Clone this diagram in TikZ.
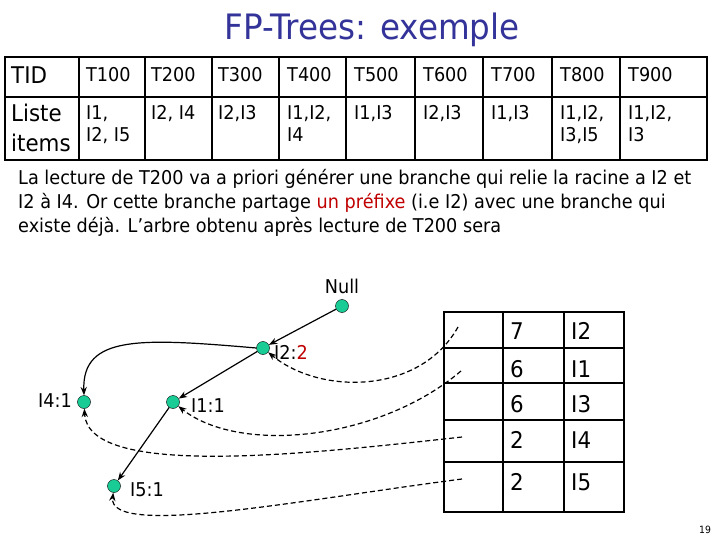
\documentclass[tikz,border=0pt]{standalone}
\usepackage{fontspec}
\setmainfont{DejaVu Sans}[FakeStretch=0.93]
\usetikzlibrary{arrows.meta}
\definecolor{titleblue}{RGB}{51,51,153}
\definecolor{nodegreen}{RGB}{25,204,150}
\definecolor{darkred}{RGB}{192,0,0}
\begin{document}
\begin{tikzpicture}[
    x=1pt,y=-1pt,
    every node/.style={inner sep=0pt},
    item/.style={circle,draw,fill=nodegreen,minimum size=13pt},
    lbl/.style={font=\fontsize{19}{19}\selectfont},
    cell/.style={anchor=north west,align=left,font=\fontsize{19}{22}\selectfont},
    big/.style={anchor=base west,font=\fontsize{23}{23}\selectfont},
    link/.style={->,line width=1.2pt},
    ptr/.style={->,line width=1.2pt,dash pattern=on 5pt off 3pt},
    >=Stealth
]
\useasboundingbox (0,0) rectangle (720,540);

\node[font=\fontsize{35}{35}\selectfont,text=titleblue] (title) at (372,30) {FP-Trees: exemple};

% transactions
\draw[line width=2pt] (5,57) rectangle (707,160);
\draw[line width=1.5pt] (5,97) -- (707,97);
\foreach \c in {79,145,212,279,346,415,483,552,620}
    \draw[line width=1.5pt] (\c,57) -- (\c,160);
\node[big] (tid) at (11,84) {TID};
\node[big] (liste) at (11,122) {Liste};
\node[big] (items) at (11,152) {items};
\foreach \x/\t/\l in {86/T100/{I1,\\I2, I5},151/T200/{I2, I4},218/T300/{I2,I3},
    287/T400/{I1,I2,\\I4},354/T500/{I1,I3},423/T600/{I2,I3},491/T700/{I1,I3},
    560/T800/{I1,I2,\\I3,I5},628/T900/{I1,I2,\\I3}}{
    \node[cell] (h\t) at (\x,67) {\t};
    \node[cell] (l\t) at (\x,105) {\l};
}

\node[anchor=north west,align=left,font=\fontsize{19}{24}\selectfont] (texte) at (18,169)
    {La lecture de T200 va a priori générer une branche qui relie la racine a I2 et\\
     I2 à I4. Or cette branche partage \textcolor{darkred}{un préfixe} (i.e I2) avec une branche qui\\
     existe déjà. L’arbre obtenu après lecture de T200 sera};

% arbre
\node[item] (null) at (342,306) {};
\node[lbl] (nulltxt) at (342,286) {Null};
\node[item] (i2) at (263,348) {};
\node[lbl,anchor=west] (i2txt) at (274,352) {I2:\textcolor{darkred}{2}};
\node[item] (i4) at (84,402) {};
\node[lbl,anchor=east] (i4txt) at (72,401) {I4:1};
\node[item] (i1) at (173,402) {};
\node[lbl,anchor=west] (i1txt) at (191,406) {I1:1};
\node[item] (i5) at (114,486) {};
\node[lbl,anchor=west] (i5txt) at (130,490) {I5:1};

\draw[link] (null) -- (i2);
\draw[link] (i2) -- (i1);
\draw[link] (i1) -- (i5);
\draw[link] (i2.west) .. controls (140,338) and (82,335) .. (i4.north);

% entetes
\draw[line width=2pt] (444,312) rectangle (624,512);
\draw[line width=1.5pt] (503,312) -- (503,512) (564,312) -- (564,512);
\foreach \r in {348,383,420,462}
    \draw[line width=1.5pt] (444,\r) -- (624,\r);
\foreach \b/\n/\i in {339/7/I2,377/6/I1,412/6/I3,448/2/I4,490/2/I5}{
    \node[big] (s\i) at (510,\b) {\n};
    \node[big] (e\i) at (571,\b) {\i};
}
\coordinate (r1) at (458,327);
\coordinate (r2) at (461,371);
\coordinate (r3) at (462,437);
\coordinate (r4) at (462,479);

\draw[ptr] (r1) .. controls (420,395) and (320,395) .. (i2);
\draw[ptr] (r2) .. controls (380,440) and (240,455) .. (i1);
\draw[ptr] (r3) .. controls (300,455) and (88,478) .. (i4);
\draw[ptr] (r4) .. controls (300,500) and (108,538) .. (i5);

\node[font=\fontsize{10}{10}\selectfont] (page) at (705,530) {19};
\end{tikzpicture}
\end{document}
